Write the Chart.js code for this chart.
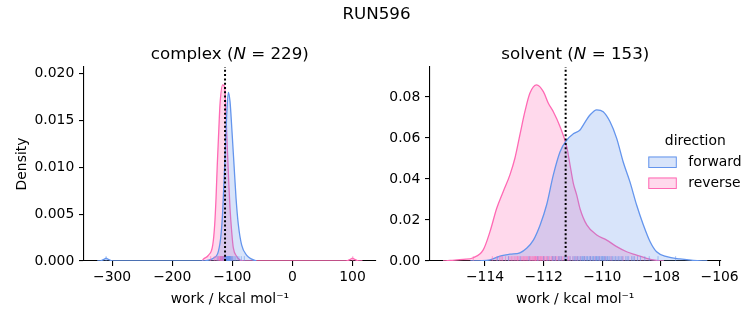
<!DOCTYPE html>
<html>
<head>
<meta charset="utf-8">
<script src="https://cdn.jsdelivr.net/npm/chart.js@4.4.0/dist/chart.umd.min.js"></script>
<style>
html, body { margin: 0; padding: 0; background: #fff; }
#wrap { position: relative; width: 753px; height: 325px; }
canvas { position: absolute; left: 0; top: 0; }
</style>
</head>
<body>
<div id="wrap">
  <canvas id="complex" width="753" height="325"></canvas>
  <canvas id="solvent" width="753" height="325"></canvas>
</div>
<script>
// --- data ---
const complexForwardX = [-324.7, -318, -313, -310, -307, -302, -296, -150, -140, -131.6, -123.3, -118.8, -116, -113.8, -111.6, -109.3, -106.6, -103.8, -100.5, -97.2, -93.8, -90, -84.4, -76, -67.7, -60];
const complexForwardY = [0, 0.00005, 0.0002, 0.0003, 0.0002, 0.00005, 0, 0, 0.0001, 0.0003, 0.001, 0.0028, 0.0053, 0.0085, 0.012, 0.0156, 0.018, 0.017, 0.0138, 0.0103, 0.0067, 0.0039, 0.0017, 0.0006, 0.0002, 0];
const complexReverseX = [-150, -148.2, -139.9, -132.6, -129.3, -127.1, -125, -122.6, -120.5, -116, -112.6, -110.5, -108.3, -106, -103.8, -101, -98.3, -92.7, -87.2, -80, 85, 92, 97, 100, 103, 108, 116.5];
const complexReverseY = [0, 0.0002, 0.0006, 0.0017, 0.0039, 0.0067, 0.0103, 0.0138, 0.0167, 0.0188, 0.0185, 0.0156, 0.012, 0.0085, 0.0056, 0.0031, 0.0014, 0.0005, 0.0001, 0, 0, 0.00005, 0.0002, 0.0003, 0.0002, 0.00005, 0];

const solventForwardX = [-114.5, -114.2, -113.83, -113.49, -113.15, -112.81, -112.58, -112.35, -112.12, -111.9, -111.67, -111.44, -111.21, -110.99, -110.76, -110.65, -110.42, -110.19, -109.97, -109.74, -109.51, -109.29, -109.06, -108.83, -108.6, -108.37, -108.15, -107.8, -107.35, -106.9, -106.42];
const solventForwardY = [0, 0.0001, 0.0005, 0.0024, 0.0033, 0.004, 0.0062, 0.0102, 0.0176, 0.0273, 0.042, 0.0533, 0.059, 0.062, 0.0639, 0.0663, 0.0712, 0.0737, 0.0728, 0.068, 0.0598, 0.0484, 0.0387, 0.0273, 0.0176, 0.0094, 0.0045, 0.0021, 0.001, 0.0003, 0];
const solventReverseX = [-115.43, -115.19, -114.74, -114.4, -114.06, -113.83, -113.6, -113.38, -113.15, -112.98, -112.81, -112.64, -112.47, -112.24, -112.01, -111.84, -111.67, -111.44, -111.21, -111.1, -110.99, -110.87, -110.76, -110.53, -110.19, -109.85, -109.51, -109.17, -108.83, -108.49, -108.15, -107.9];
const solventReverseY = [0, 0.0003, 0.0008, 0.0016, 0.0054, 0.0143, 0.0257, 0.0338, 0.042, 0.0501, 0.0615, 0.0728, 0.0818, 0.0859, 0.0826, 0.0769, 0.0728, 0.0655, 0.0555, 0.0468, 0.038, 0.032, 0.0255, 0.0176, 0.0127, 0.0102, 0.007, 0.0045, 0.0029, 0.0013, 0.0003, 0];

// rug (individual work values)
const complexForwardRug = [-310, -124, -119, -116, -114, -113, -112, -111, -110.5, -110, -109.5, -109, -108.5, -108, -107.5, -107, -106.5, -106, -105.5, -105, -104.5, -104, -103, -102, -101, -100, -99, -97, -95, -92, -89, -85, -80, -107.2, -106.2, -105.2, -108.2, -109.2, -104.2, -103.5];
const complexReverseRug = [-136, -130, -127, -125, -123, -122, -121, -120, -119, -118.5, -118, -117.5, -117, -116.5, -116, -115.5, -115, -114.5, -114, -113.5, -113, -112.5, -112, -111, -110, -109, -108, -106, -104, -101, 100.5, -117.2, -116.2, -115.2, -114.2, -119.5, -120.5, -113.2, -112.2, -118.2];
const solventForwardRug = [-113.57, -113.2, -112.8, -112.5, -112.2, -112.0, -111.85, -111.7, -111.6, -111.5, -111.4, -111.3, -111.2, -111.1, -111.0, -110.95, -110.9, -110.8, -110.75, -110.7, -110.65, -110.6, -110.55, -110.5, -110.45, -110.4, -110.35, -110.3, -110.25, -110.2, -110.15, -110.1, -110.05, -110.0, -109.95, -109.9, -109.85, -109.8, -109.75, -109.7, -109.65, -109.6, -109.5, -109.45, -109.4, -109.3, -109.2, -109.1, -109.0, -108.9, -108.8, -108.7, -108.55, -108.4, -108.1, -107.5, -110.12, -110.22, -110.32, -110.42, -110.52, -110.62, -110.02, -109.92, -109.82, -109.55, -109.35, -109.15, -111.25, -111.45, -111.65, -110.85, -110.68, -110.18, -109.98, -108.95];
const solventReverseRug = [-114.4, -113.75, -113.6, -113.5, -113.45, -113.3, -113.2, -113.15, -113.05, -113.0, -112.95, -112.9, -112.85, -112.8, -112.75, -112.7, -112.65, -112.6, -112.55, -112.5, -112.48, -112.42, -112.38, -112.35, -112.3, -112.27, -112.22, -112.2, -112.15, -112.12, -112.08, -112.05, -112.0, -111.95, -111.9, -111.85, -111.8, -111.75, -111.7, -111.65, -111.6, -111.55, -111.5, -111.45, -111.4, -111.3, -111.2, -111.1, -111.0, -110.9, -110.75, -110.6, -110.4, -110.1, -109.7, -109.3, -112.45, -112.25, -112.1, -111.98, -112.6, -112.9, -113.1, -112.32, -112.18, -111.88, -111.72, -111.35, -113.4, -112.02, -112.28, -111.58, -110.85, -110.25, -109.9, -112.7, -111.15];

const complexRef = -112.1;
const solventRef = -111.25;

const complexTicksX = [-300, -200, -100, 0, 100];
const complexTicksY = [0, 0.005, 0.010, 0.015, 0.020];
const solventTicksX = [-114, -112, -110, -108, -106];
const solventTicksY = [0, 0.02, 0.04, 0.06, 0.08];

// --- styling ---
const FONT = "'DejaVu Sans', sans-serif";
const BLUE = '#6495ED', BLUE_FILL = 'rgba(100,149,237,0.25)', BLUE_RUG = 'rgba(100,149,237,0.55)';
const PINK = '#FF69B4', PINK_FILL = 'rgba(255,105,180,0.25)', PINK_RUG = 'rgba(255,105,180,0.55)';
Chart.defaults.font.family = FONT;
Chart.defaults.font.size = 13.9;
Chart.defaults.color = '#000';

const minus = s => String(s).replace('-', '\u2212');
const pts = (xs, ys) => xs.map((x, i) => ({x: x, y: ys[i]}));

const overlayPlugin = {
  id: 'overlay',
  afterDatasetsDraw(chart, args, opts) {
    const ctx = chart.ctx, a = chart.chartArea, x = chart.scales.x;
    ctx.save();
    ctx.beginPath();
    ctx.rect(a.left, a.top, a.right - a.left, a.bottom - a.top);
    ctx.clip();
    const h = (a.bottom - a.top) * 0.025;
    opts.rugs.forEach(r => {
      ctx.strokeStyle = r.color;
      ctx.lineWidth = 1;
      r.values.forEach(v => {
        const px = x.getPixelForValue(v);
        ctx.beginPath();
        ctx.moveTo(px, a.bottom);
        ctx.lineTo(px, a.bottom - h);
        ctx.stroke();
      });
    });
    const px = x.getPixelForValue(opts.refX);
    ctx.strokeStyle = '#000';
    ctx.lineWidth = 2;
    ctx.setLineDash([2, 2.3]);
    ctx.beginPath();
    ctx.moveTo(px, a.bottom);
    ctx.lineTo(px, a.top);
    ctx.stroke();
    ctx.restore();
  }
};

const textPlugin = {
  id: 'texts',
  afterDraw(chart, args, opts) {
    const ctx = chart.ctx, a = chart.chartArea;
    (opts.items || []).forEach(it => {
      ctx.save();
      ctx.fillStyle = '#000';
      ctx.textBaseline = 'alphabetic';
      ctx.textAlign = 'left';
      const fontFor = p => (p[1] ? 'italic ' : '') + it.size + 'px ' + FONT;
      let w = 0;
      it.parts.forEach(p => { ctx.font = fontFor(p); w += ctx.measureText(p[0]).width; });
      let x = (it.x === null ? (a.left + a.right) / 2 : it.x) - w / 2;
      it.parts.forEach(p => {
        ctx.font = fontFor(p);
        ctx.fillText(p[0], x, it.y);
        x += ctx.measureText(p[0]).width;
      });
      ctx.restore();
    });
  }
};

const sideLegend = {
  id: 'sideLegend',
  afterDraw(chart, args, opts) {
    if (!opts.show) return;
    const ctx = chart.ctx;
    ctx.save();
    ctx.font = '13.9px ' + FONT;
    ctx.textBaseline = 'middle';
    ctx.fillStyle = '#000';
    ctx.textAlign = 'center';
    ctx.fillText(opts.title, opts.x + 47, opts.y);
    chart.data.datasets.forEach((d, i) => {
      const y = opts.y + 21 + i * 21;
      ctx.fillStyle = d.backgroundColor;
      ctx.fillRect(opts.x, y - 5.5, 28, 11);
      ctx.strokeStyle = d.borderColor;
      ctx.lineWidth = 1;
      ctx.strokeRect(opts.x + 0.5, y - 5, 27.5, 10.5);
      ctx.fillStyle = '#000';
      ctx.textAlign = 'left';
      ctx.fillText(d.label, opts.x + 40, y);
    });
    ctx.restore();
  }
};

function axisX(min, max, ticks) {
  return {
    type: 'linear', min: min, max: max,
    afterBuildTicks: s => { s.ticks = ticks.map(v => ({value: v})); },
    afterFit: s => { s.height = 64; },
    ticks: { callback: v => minus(v), padding: 3, maxRotation: 0, autoSkip: false },
    grid: { drawOnChartArea: false, drawTicks: true, tickLength: 5, color: '#000', lineWidth: 1.1 },
    border: { display: true, color: '#000', width: 1.1 },
    title: { display: true, text: 'work / kcal mol\u207B\u00B9', padding: {top: 0, bottom: 17.7} }
  };
}

function axisY(max, ticks, digits, width, title) {
  return {
    type: 'linear', min: 0, max: max,
    afterBuildTicks: s => { s.ticks = ticks.map(v => ({value: v})); },
    afterFit: s => { s.width = width; },
    ticks: { callback: v => Number(v).toFixed(digits), padding: 4.7, autoSkip: false },
    grid: { drawOnChartArea: false, drawTicks: true, tickLength: 5, color: '#000', lineWidth: 1.1 },
    border: { display: true, color: '#000', width: 1.1 },
    title: { display: !!title, text: title || '', padding: {top: 14.1, bottom: 0} }
  };
}

function kde(label, xs, ys, line, fill) {
  return {
    label: label, data: pts(xs, ys), borderColor: line, backgroundColor: fill,
    fill: 'origin', borderWidth: 1.3, pointRadius: 0, cubicInterpolationMode: 'monotone'
  };
}

function makeChart(id, cfg) {
  return new Chart(document.getElementById(id), {
    type: 'line',
    data: { datasets: cfg.datasets },
    plugins: [overlayPlugin, textPlugin, sideLegend],
    options: {
      responsive: false, animation: false, events: [],
      layout: { padding: cfg.padding },
      scales: { x: cfg.x, y: cfg.y },
      plugins: {
        legend: { display: false }, tooltip: { enabled: false },
        overlay: { rugs: cfg.rugs, refX: cfg.refX },
        texts: { items: cfg.texts },
        sideLegend: cfg.legend
      }
    }
  });
}

makeChart('complex', {
  datasets: [
    kde('forward', complexForwardX, complexForwardY, BLUE, BLUE_FILL),
    kde('reverse', complexReverseX, complexReverseY, PINK, PINK_FILL)
  ],
  padding: { left: 0, top: 67, right: 377.3, bottom: 0 },
  x: axisX(-346.8, 138.6, complexTicksX),
  y: axisY(0.0207, complexTicksY, 3, 84, 'Density'),
  rugs: [ { values: complexReverseRug, color: PINK_RUG }, { values: complexForwardRug, color: BLUE_RUG } ],
  refX: complexRef,
  texts: [
    { parts: [['RUN596', false]], x: 376.5, y: 18.7, size: 16.7 },
    { parts: [['complex (', false], ['N', true], [' = 229)', false]], x: null, y: 58.7, size: 16.7 }
  ],
  legend: { show: false }
});

makeChart('solvent', {
  datasets: [
    kde('forward', solventForwardX, solventForwardY, BLUE, BLUE_FILL),
    kde('reverse', solventReverseX, solventReverseY, PINK, PINK_FILL)
  ],
  padding: { left: 380, top: 67, right: 32.5, bottom: 0 },
  x: axisX(-115.875, -105.97, solventTicksX),
  y: axisY(0.0946, solventTicksY, 2, 50, ''),
  rugs: [ { values: solventReverseRug, color: PINK_RUG }, { values: solventForwardRug, color: BLUE_RUG } ],
  refX: solventRef,
  texts: [
    { parts: [['solvent (', false], ['N', true], [' = 153)', false]], x: null, y: 58.7, size: 16.7 }
  ],
  legend: { show: true, title: 'direction', x: 648.3, y: 141 }
});
</script>
</body>
</html>
